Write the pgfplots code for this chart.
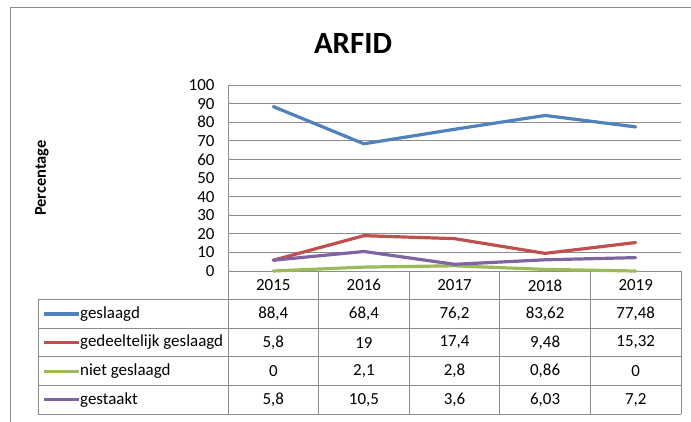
\documentclass[border=0pt]{standalone}
\usepackage{pgfplots}
\pgfplotsset{compat=1.18}
\usepackage{fontspec}
\setmainfont{Carlito}
\definecolor{sblue}{HTML}{4F81BD}
\definecolor{sred}{HTML}{C0504D}
\definecolor{sgreen}{HTML}{9BBB59}
\definecolor{spurple}{HTML}{8064A2}
\definecolor{gridc}{HTML}{8C8C8C}
\begin{document}
\begin{tikzpicture}[x=1bp,y=-1bp]
\useasboundingbox (0,0) rectangle (691,421);
% chart border
\draw[gridc, line width=1bp] (10,440) -- (10,7) -- (700,7);
\begin{axis}[
  at={(228bp,-271bp)}, anchor=south west,
  scale only axis, width=453bp, height=186bp,
  xmin=-0.5, xmax=4.5, ymin=0, ymax=100,
  xtick=\empty,
  ytick={0,10,...,100},
  ymajorgrids,
  grid style={gridc, line width=0.8bp},
  axis lines*=left,
  axis line style={gridc, line width=0.8bp},
  major tick length=0pt,
  /pgf/number format/assume math mode=true,
  yticklabel style={font=\fontsize{17}{19}\selectfont, xshift=-10bp},
  clip=false,
  every axis plot/.append style={line width=3.2bp, line join=round, line cap=round},
]
\addplot[sblue] coordinates {(0,88.4) (1,68.4) (2,76.2) (3,83.62) (4,77.48)};
\addplot[sred] coordinates {(0,5.8) (1,19) (2,17.4) (3,9.48) (4,15.32)};
\addplot[sgreen] coordinates {(0,0) (1,2.1) (2,2.8) (3,0.86) (4,0)};
\addplot[spurple] coordinates {(0,5.8) (1,10.5) (2,3.6) (3,6.03) (4,7.2)};
\end{axis}
% title and y label
\node[anchor=base, font=\fontsize{31}{35}\selectfont\bfseries] at (353,53) {ARFID};
\node[rotate=90, font=\fontsize{16.5}{19}\selectfont\bfseries] at (42,178) {Percentage};
% data table grid
\begin{scope}[gridc, line width=0.8bp]
\foreach \x in {318.6,409.2,499.8,590.4,681} \draw (\x,271) -- (\x,414);
\draw (228,271) -- (228,414);
\draw (38,299.6) -- (38,414);
\foreach \y in {299.6,328.2,356.8,385.4,414} \draw (38,\y) -- (681,\y);
\end{scope}
\begin{scope}[every node/.style={font=\fontsize{17}{19}\selectfont}]
\foreach \t [count=\i from 0] in {2015,2016,2017,2018,2019}
  \node at (273.3+90.6*\i,285.3) {\t};
\foreach \t [count=\i from 0] in {{88,4},{68,4},{76,2},{83,62},{77,48}}
  \node at (273.3+90.6*\i,313.9) {\t};
\foreach \t [count=\i from 0] in {{5,8},{19},{17,4},{9,48},{15,32}}
  \node at (273.3+90.6*\i,342.5) {\t};
\foreach \t [count=\i from 0] in {{0},{2,1},{2,8},{0,86},{0}}
  \node at (273.3+90.6*\i,371.1) {\t};
\foreach \t [count=\i from 0] in {{5,8},{10,5},{3,6},{6,03},{7,2}}
  \node at (273.3+90.6*\i,399.7) {\t};
\node[anchor=west, inner sep=0pt] at (80,313.9) {geslaagd};
\node[anchor=west, inner sep=0pt] at (80,342.5) {gedeeltelijk geslaagd};
\node[anchor=west, inner sep=0pt] at (80,371.1) {niet geslaagd};
\node[anchor=west, inner sep=0pt] at (80,399.7) {gestaakt};
\end{scope}
\draw[sblue, line width=3.2bp] (44,313.9) -- (79,313.9);
\draw[sred, line width=3.2bp] (44,342.5) -- (79,342.5);
\draw[sgreen, line width=3.2bp] (44,371.1) -- (79,371.1);
\draw[spurple, line width=3.2bp] (44,399.7) -- (79,399.7);
\end{tikzpicture}
\end{document}
